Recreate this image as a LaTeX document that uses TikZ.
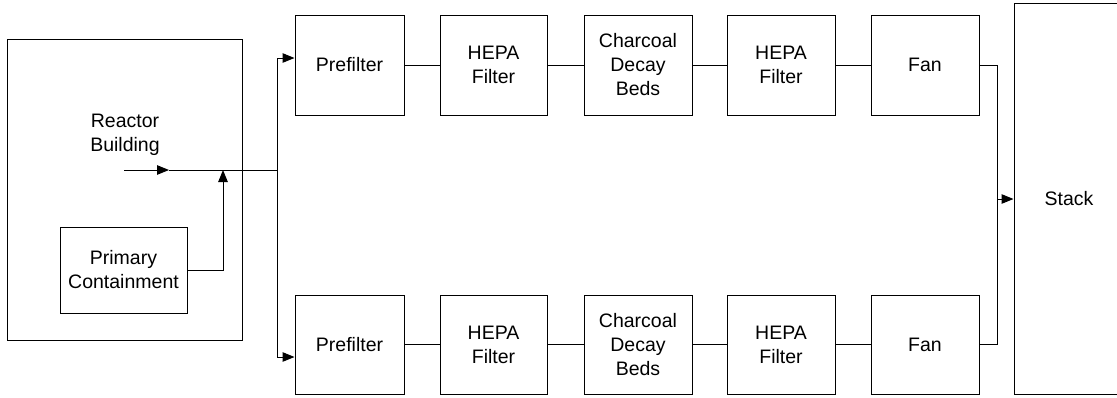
\documentclass[tikz,border=0pt]{standalone}
\usepackage{fontspec}
\setmainfont{Liberation Sans}
\usetikzlibrary{arrows.meta}
\begin{document}
\begin{tikzpicture}[x=1pt,y=-1pt,line width=1pt,
  box/.style={draw,inner sep=0pt,align=center,font=\fontsize{19.5}{24}\selectfont},
  rowbox/.style={box,minimum width=108pt,minimum height=100pt},
  arr/.style={-{Triangle[length=12pt,width=9.5pt]}},
  lbl/.style={inner sep=0pt,align=center,font=\fontsize{19.5}{24}\selectfont}]
\useasboundingbox (0,0) rectangle (1117,397);
% reactor building
\node[box,minimum width=235pt,minimum height=301pt] (rb) at (124.5,189.5) {};
\node[lbl] (rbl) at (125,135) {Reactor\\Building};
\node[box,minimum width=127pt,minimum height=86pt] (pc) at (123.5,270) {Primary\\Containment};
% rows
\node[rowbox,minimum width=109pt] (pf1) at (349.5,65) {Prefilter};
\node[rowbox,minimum width=107pt] (ha1) at (493.5,65) {HEPA\\Filter};
\node[rowbox] (cb1) at (638,65) {Charcoal\\Decay\\Beds};
\node[rowbox] (hb1) at (781,65) {HEPA\\Filter};
\node[rowbox] (fan1) at (925,65) {Fan};
\node[rowbox,minimum width=109pt,minimum height=99pt] (pf2) at (349.5,344.5) {Prefilter};
\node[rowbox,minimum width=107pt,minimum height=99pt] (ha2) at (493.5,344.5) {HEPA\\Filter};
\node[rowbox,minimum height=99pt] (cb2) at (638,344.5) {Charcoal\\Decay\\Beds};
\node[rowbox,minimum height=99pt] (hb2) at (781,344.5) {HEPA\\Filter};
\node[rowbox,minimum height=99pt] (fan2) at (925,344.5) {Fan};
\node[box,minimum width=110pt,minimum height=391pt] (stack) at (1069,198.5) {Stack};
% coordinates
\coordinate (rbin) at (124,170);
\coordinate (rbm) at (169,170);
\coordinate (j) at (277,170);
\coordinate (pcj) at (223,170);
\coordinate (t) at (277,58);
\coordinate (b) at (277,357);
\coordinate (s) at (997,199);
% connectors
\draw[arr] (rbin) -- (rbm);
\draw (rbm) -- (j);
\draw[arr] (pc.east) -| (pcj);
\draw (t) -- (b);
\draw[arr] (t) -- (pf1.west |- t);
\draw[arr] (b) -- (pf2.west |- b);
\draw (pf1) -- (ha1); \draw (ha1) -- (cb1); \draw (cb1) -- (hb1); \draw (hb1) -- (fan1);
\draw (pf2) -- (ha2); \draw (ha2) -- (cb2); \draw (cb2) -- (hb2); \draw (hb2) -- (fan2);
\draw (fan1.east) -| (s);
\draw (fan2.east) -| (s);
\draw[arr] (s) -- (stack.west |- s);
\end{tikzpicture}
\end{document}
